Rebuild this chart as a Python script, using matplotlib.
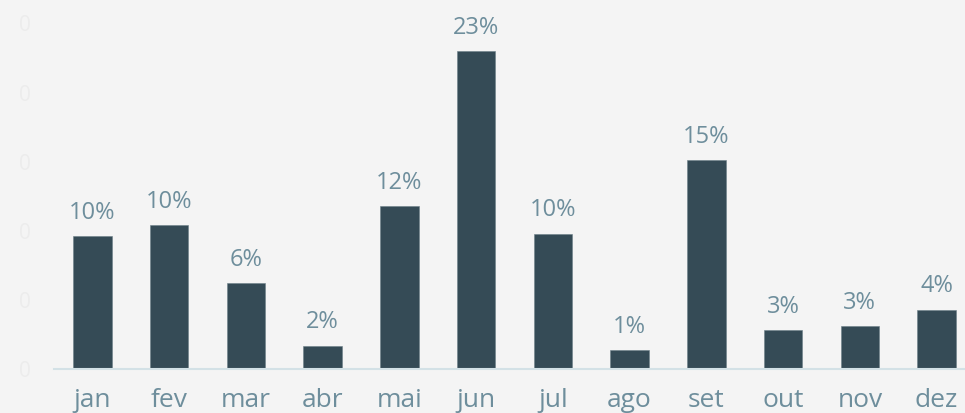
import matplotlib
matplotlib.use("Agg")
import matplotlib.pyplot as plt
import numpy as np

months = ["jan", "fev", "mar", "abr", "mai", "jun", "jul", "ago", "set", "out", "nov", "dez"]
shares = [9.6, 10.4, 6.2, 1.7, 11.8, 23.0, 9.8, 1.4, 15.1, 2.8, 3.1, 4.3]
yticks = [0, 5, 10, 15, 20, 25]

bg = "#f4f4f4"
bar_color = "#354b56"
text_color = "#6e8e9c"

plt.rcParams["font.family"] = ["Open Sans", "DejaVu Sans"]

fig = plt.figure(figsize=(9.65, 4.13), dpi=100, facecolor=bg)
ax = fig.add_axes([54 / 965, 1 - 369 / 413, 1 - 54 / 965, 369 / 413])
ax.set_facecolor(bg)

x = np.arange(len(months))
ax.bar(x, shares, width=0.5, color=bar_color, edgecolor="#6c7f88", linewidth=0.4)

for xi, v in zip(x, shares):
    ax.annotate(f"{v:.0f}%", (xi, v), xytext=(0, 8), textcoords="offset points",
                ha="center", va="bottom", fontsize=17, color=text_color)

ax.set_xlim(-0.5, 11.37)
ax.set_ylim(0, 26.7)
ax.set_xticks(x)
ax.set_xticklabels(months, fontsize=19, color=text_color)
ax.set_yticks(yticks)
ax.set_yticklabels(["0"] * len(yticks), fontsize=15, color="#ececec")
ax.tick_params(axis="x", length=0, pad=14)
ax.tick_params(axis="y", length=0, pad=17)

for side in ["top", "right", "left"]:
    ax.spines[side].set_visible(False)
ax.spines["bottom"].set_color("#d3e1e6")
ax.spines["bottom"].set_linewidth(1.5)

fig.savefig("out.png", dpi=100, facecolor=bg)
